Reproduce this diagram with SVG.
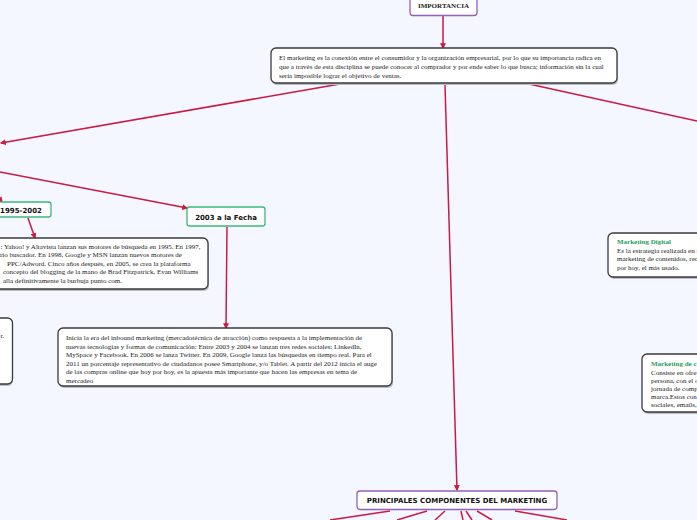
<svg xmlns="http://www.w3.org/2000/svg" width="697" height="520" viewBox="0 0 697 520">
<defs>
<style>
.bg{fill:#f4f7ff}
.box{fill:#ffffff;stroke:#3a3a3a;stroke-width:1.3}
.shadow{fill:#b9bcc8}
.purple{fill:#ffffff;stroke:#9461b8;stroke-width:1.3}
.green{fill:#ffffff;stroke:#3cb87a;stroke-width:1.3}
.t{font-family:"Liberation Serif",serif;font-size:7px;fill:#222}
.tb{font-family:"Liberation Serif",serif;font-size:7px;font-weight:bold;fill:#222}
.gt{font-family:"Liberation Serif",serif;font-size:7px;font-weight:bold;fill:#1f9e57}
.lab{font-family:"DejaVu Sans",sans-serif;font-size:7px;font-weight:bold;fill:#111;text-anchor:middle}
.c{stroke:#cc1a40;stroke-width:1.5;fill:none}
</style>
<marker id="ah" viewBox="0 0 10 10" refX="8" refY="5" markerWidth="4" markerHeight="4" orient="auto">
<path d="M0,0 L10,5 L0,10 z" fill="#cc1a40"/>
</marker>
</defs>
<rect class="bg" x="0" y="0" width="697" height="520"/>

<g id="connectors">
<line class="c" x1="443" y1="16" x2="443" y2="48" marker-end="url(#ah)"/>
<line class="c" x1="340" y1="84" x2="1" y2="143" marker-end="url(#ah)"/>
<line class="c" x1="0" y1="172" x2="187" y2="208" marker-end="url(#ah)"/>
<line class="c" x1="445" y1="85" x2="457" y2="490" marker-end="url(#ah)"/>
<line class="c" x1="529" y1="84" x2="697" y2="121"/>
<line class="c" x1="-10" y1="186" x2="2" y2="202" marker-end="url(#ah)"/>
<line class="c" x1="28" y1="218" x2="35" y2="238" marker-end="url(#ah)"/>
<line class="c" x1="227" y1="227" x2="226" y2="328" marker-end="url(#ah)"/>
<line class="c" x1="390" y1="511" x2="330" y2="520"/>
<line class="c" x1="427" y1="511" x2="397" y2="520" stroke-width="2.5"/>
<line class="c" x1="445" y1="511" x2="435" y2="520"/>
<line class="c" x1="461" y1="511" x2="463" y2="520"/>
<line class="c" x1="466" y1="511" x2="472" y2="520"/>
<line class="c" x1="477" y1="511" x2="492" y2="520"/>
<line class="c" x1="515" y1="511" x2="567" y2="520"/>
</g>

<g id="importancia">
<rect class="purple" x="410" y="-6" width="67" height="21.5" rx="3"/>
<text class="tb" x="443.5" y="8" text-anchor="middle" font-size="6.6">IMPORTANCIA</text>
</g>

<g id="definicion">
<rect class="shadow" x="272" y="50" width="346" height="35" rx="5"/>
<rect class="box" x="271" y="48" width="346" height="35" rx="5"/>
<text class="t" x="279" y="60">El marketing es la conexión entre el consumidor y la organización empresarial, por lo que su importancia radica en</text>
<text class="t" x="279" y="69">que a través de esta disciplina se puede conocer al comprador  y por ende saber lo que busca; información sin la cual</text>
<text class="t" x="279" y="78">sería imposible lograr el objetivo de ventas.</text>
</g>

<g id="n1995">
<rect class="green" x="-10" y="202" width="61" height="15" rx="2.5"/>
<text class="lab" x="21" y="212.5">1995-2002</text>
</g>

<g id="n2003">
<rect class="green" x="187" y="207" width="78" height="19" rx="2.5"/>
<text class="lab" x="226" y="219.5">2003 a la Fecha</text>
</g>

<g id="texto1995">
<rect class="shadow" x="-10" y="240" width="219" height="51" rx="5"/>
<rect class="box" x="-10" y="238" width="218" height="51" rx="5"/>
<text class="t" x="0.5" y="248.5" font-size="7.1">: Yahoo! y Altavista lanzan sus motores de búsqueda en 1995. En 1997,</text>
<text class="t" x="0" y="257" font-size="7.1">rio buscador.  En 1998, Google y MSN lanzan nuevos motores de</text>
<text class="t" x="7" y="265.5" font-size="7.1">PPC/Adword. Cinco años después, en 2005, se crea la plataforma</text>
<text class="t" x="3" y="274" font-size="7.1">concepto del blogging de la mano de Brad Fitzpatrick, Evan Williams</text>
<text class="t" x="3" y="282.5" font-size="7.1">alla definitivamente la burbuja punto  com.</text>
</g>

<g id="textoIzq">
<rect class="shadow" x="-10" y="320" width="23" height="66" rx="5"/>
<rect class="box" x="-10" y="318" width="22.5" height="66" rx="5"/>
<text class="t" x="0.5" y="338">r.</text>
</g>

<g id="texto2003">
<rect class="shadow" x="59" y="330" width="334" height="58" rx="5"/>
<rect class="box" x="58" y="328" width="334" height="58" rx="5"/>
<text class="t" x="66" y="340" font-size="7.25">Inicia la era del inbound marketing (mercadotécnica de atracción) como respuesta a la implementación de</text>
<text class="t" x="66" y="348.5" font-size="7.25">nuevas tecnologías y formas de comunicación: Entre 2003 y 2004 se lanzan tres redes sociales: LinkedIn,</text>
<text class="t" x="66" y="357" font-size="7.25">MySpace y Facebook. En 2006 se lanza Twitter. En 2009, Google lanza las búsquedas en tiempo real. Para el</text>
<text class="t" x="66" y="365.5" font-size="7.25">2011 un porcentaje representativo de ciudadanos posee Smartphone, y/o Tablet. A partir del 2012 inicia el auge</text>
<text class="t" x="66" y="374" font-size="7.25">de las compras online que hoy por hoy, es la apuesta más importante que hacen las empresas en tema de</text>
<text class="t" x="66" y="382.5" font-size="7.25">mercadeo</text>
</g>

<g id="marketingDigital">
<rect class="shadow" x="609" y="235" width="100" height="44" rx="5"/>
<rect class="box" x="608" y="233" width="100" height="44" rx="5"/>
<text class="gt" x="617" y="244">Marketing Digital</text>
<text class="t" x="617" y="252.5">Es la estrategia realizada en i</text>
<text class="t" x="617" y="261">marketing de contenidos, red</text>
<text class="t" x="617" y="269.5">por hoy, el más usado.</text>
</g>

<g id="marketingContenidos">
<rect class="shadow" x="643" y="356" width="70" height="58" rx="5"/>
<rect class="box" x="642" y="354" width="70" height="58" rx="5"/>
<text class="gt" x="651" y="366">Marketing de c</text>
<text class="t" x="651" y="374.5">Consiste en ofre</text>
<text class="t" x="651" y="382.5">persona, con el o</text>
<text class="t" x="651" y="390.5">jornada de comp</text>
<text class="t" x="651" y="398.5">marca.Estos con</text>
<text class="t" x="651" y="406.5">sociales, emails,</text>
</g>

<g id="principales">
<rect class="purple" x="357" y="491" width="200" height="18.5" rx="3"/>
<text class="lab" x="457" y="503">PRINCIPALES COMPONENTES DEL MARKETING</text>
</g>
</svg>
